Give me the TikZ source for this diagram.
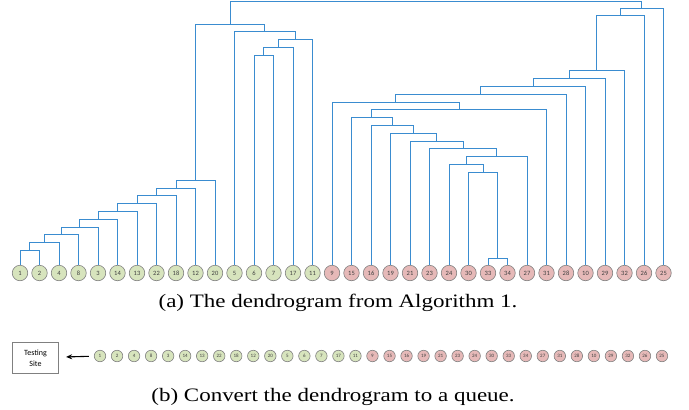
\documentclass[tikz,border=0pt]{standalone}
\usepackage{fontspec}
\setmainfont{Liberation Serif}
\newfontfamily\cbri{Carlito}
\usepackage{tikz}
\usetikzlibrary{calc}
\usetikzlibrary{arrows.meta}
\usetikzlibrary{positioning}
\definecolor{leafgreen}{RGB}{215,228,189}
\definecolor{leafred}{RGB}{230,185,184}
\definecolor{linkblue}{RGB}{58,140,208}
\tikzset{%
  leafg/.style={circle,fill=leafgreen,draw=black!50,line width=0.6pt,inner sep=0pt,minimum size=15.5pt,font=\cbri\fontsize{6.5}{7}\selectfont,text=black!75},
  leafr/.style={leafg,fill=leafred},
  qleafg/.style={leafg,minimum size=11.5pt,font=\cbri\fontsize{5}{5}\selectfont},
  qleafr/.style={qleafg,fill=leafred},
  link/.style={draw=linkblue,line width=1pt},
  sitebox/.style={rectangle,draw=black!50,line width=0.6pt,minimum width=45.6pt,minimum height=31pt,align=center,font=\cbri\fontsize{8}{11}\selectfont},
  captxt/.style={anchor=base,font=\fontsize{19}{22}\selectfont,inner sep=0pt}
}
\newcommand\dmerge[4]{%
  \draw[link] (#1) -- (#1 |- 0,#3) -- (#2 |- 0,#3) -- (#2);
  \coordinate (#4) at ($(#1 |- 0,#3)!0.5!(#2 |- 0,#3)$);}
\newcommand\widecap[1]{\scalebox{1.21}[1]{#1}}

\begin{document}
\begin{tikzpicture}[x=1pt,y=-1pt]
  \useasboundingbox (0,0) rectangle (689,410);
  % leaves of the dendrogram
  \foreach \n [count=\i from 0] in {1,2,4,8,3,14,13,22,18,12,20,5,6,7,17,11,9,15,16,19,21,23,24,30,33,34,27,31,28,10,29,32,26,25}{
    \ifnum\i<16 \def\lc{leafg}\else\def\lc{leafr}\fi
    \node[\lc] (l\n) at ({20+19.5*\i},273) {\n};
    \node[q\lc] (q\n) at ({100+17.03*\i},356) {\n};
  }
  % left cluster
  \dmerge{l1}{l2}{250.3}{a1}
  \dmerge{a1}{l4}{242}{a2}
  \dmerge{a2}{l8}{234.3}{a3}
  \dmerge{a3}{l3}{227}{a4}
  \dmerge{a4}{l14}{219.3}{a5}
  \dmerge{a5}{l13}{211.3}{a6}
  \dmerge{a6}{l22}{203.3}{a7}
  \dmerge{a7}{l18}{195.7}{a8}
  \dmerge{a8}{l12}{188}{a9}
  \dmerge{a9}{l20}{180.3}{a10}
  \dmerge{l6}{l7}{55.3}{b1}
  \dmerge{b1}{l17}{47.3}{b2}
  \dmerge{b2}{l11}{39.3}{b3}
  \dmerge{l5}{b3}{31.7}{b4}
  \dmerge{a10}{b4}{24}{b5}
  % right cluster
  \dmerge{l33}{l34}{258.3}{c1}
  \dmerge{l30}{c1}{172.3}{c2}
  \dmerge{l24}{c2}{164.3}{c3}
  \dmerge{c3}{l27}{156.7}{c4}
  \dmerge{l23}{c4}{148.7}{c5}
  \dmerge{l21}{c5}{141}{c6}
  \dmerge{l19}{c6}{133}{c7}
  \dmerge{l16}{c7}{125.3}{c8}
  \dmerge{l15}{c8}{117.3}{c9}
  \dmerge{c9}{l31}{109.7}{c10}
  \dmerge{l9}{c10}{102}{c11}
  \dmerge{c11}{l28}{94}{c12}
  \dmerge{c12}{l10}{86.3}{c13}
  \dmerge{c13}{l29}{78.3}{c14}
  \dmerge{c14}{l32}{70.7}{c15}
  \dmerge{c15}{l26}{15.7}{c16}
  \dmerge{c16}{l25}{8}{c17}
  \dmerge{b5}{c17}{1.2}{top}
  % queue
  \node[sitebox] (site) at (35.5,357.8) {Testing\\Site};
  \draw[-{Stealth[length=6pt,width=5pt]},line width=1.1pt,shorten <=5pt,shorten >=7.5pt] (q1) -- (site);
  % captions
  \node[captxt] (capa) at (338,307) {\widecap{(a) The dendrogram from Algorithm 1.}};
  \node[captxt] (capb) at (333,401) {\widecap{(b) Convert the dendrogram to a queue.}};
\end{tikzpicture}
\end{document}
